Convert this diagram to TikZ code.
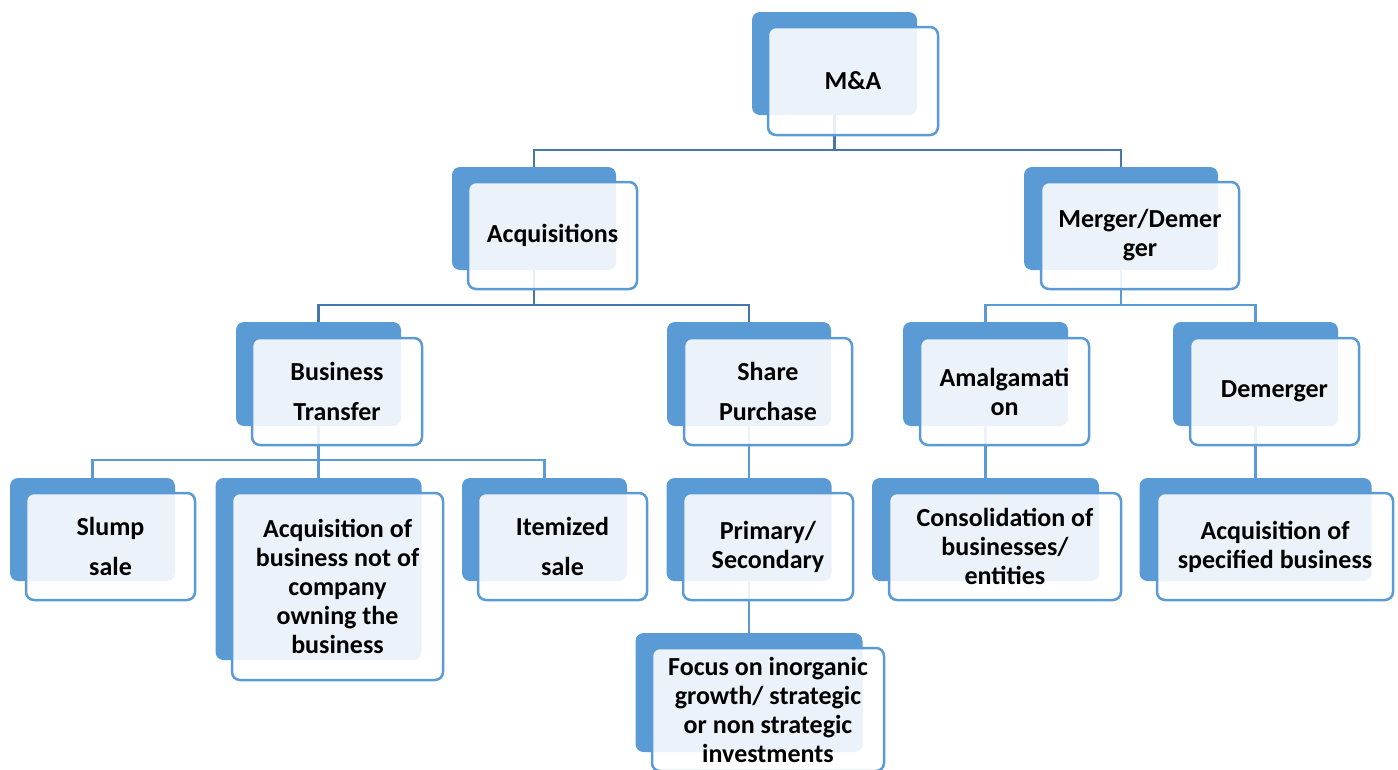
\documentclass[tikz,border=0pt]{standalone}
\usepackage{fontspec}
\setmainfont{Carlito}
\usetikzlibrary{backgrounds}
\definecolor{cardblue}{HTML}{5B9BD5}
\definecolor{linkdark}{HTML}{4676AC}
\tikzset{
  cardback/.style={fill=cardblue, rounded corners=8pt, inner sep=0pt},
  cardfront/.style={draw=cardblue, line width=2.5pt, fill=white, fill opacity=0.88,
    text opacity=1, rounded corners=8pt, align=center, inner sep=0pt,
    font={\fontsize{26}{29}\selectfont\bfseries}},
  link/.style={draw=cardblue, line width=2.5pt},
  toplink/.style={draw=linkdark, line width=2.5pt}
}
\begin{document}
\begin{tikzpicture}[x=1pt,y=-1pt]
    \useasboundingbox (0,0) rectangle (1398,769);
    % top
    \node[cardback, minimum width=165, minimum height=103] (ma-b) at (834.5,63.5) {};
    \node[cardfront, minimum width=170, minimum height=108] (ma) at (853,81) {M\&A};
    % second row
    \node[cardback, minimum width=164, minimum height=103] (acq-b) at (534,218.5) {};
    \node[cardfront, minimum width=169, minimum height=107] (acq) at (552.5,235.5) {Acquisitions};
    \node[cardback, minimum width=194, minimum height=103] (mer-b) at (1121,218.5) {};
    \node[cardfront, minimum width=198, minimum height=107] (mer) at (1140,235.5) {Merger/Demer\\ger};
    % third row
    \node[cardback, minimum width=165, minimum height=104] (bt-b) at (318.5,374) {};
    \node[cardfront, minimum width=170, minimum height=107] (bt) at (337,391.5) {Business\\[11pt]Transfer};
    \node[cardback, minimum width=164, minimum height=104] (sp-b) at (749,374) {};
    \node[cardfront, minimum width=168, minimum height=107] (sp) at (768,391.5) {Share\\[11pt]Purchase};
    \node[cardback, minimum width=165, minimum height=104] (am-b) at (985.5,374) {};
    \node[cardfront, minimum width=169, minimum height=107] (am) at (1004.5,391.5) {Amalgamati\\on};
    \node[cardback, minimum width=165, minimum height=104] (dm-b) at (1255.5,374) {};
    \node[cardfront, minimum width=169, minimum height=107] (dm) at (1274.5,391.5) {Demerger};
    % fourth row
    \node[cardback, minimum width=165, minimum height=103] (slump-b) at (92.5,529.5) {};
    \node[cardfront, minimum width=169, minimum height=107] (slump) at (110.5,546.5) {Slump\\[11pt]sale};
    \node[cardback, minimum width=206, minimum height=182] (own-b) at (318.5,569) {};
    \node[cardfront, minimum width=211, minimum height=187] (own) at (337.5,586.5) {Acquisition of\\business not of\\company\\owning the\\business};
    \node[cardback, minimum width=165, minimum height=103] (item-b) at (544.5,529.5) {};
    \node[cardfront, minimum width=169, minimum height=107] (item) at (562.5,546.5) {Itemized\\[11pt]sale};
    \node[cardback, minimum width=165, minimum height=103] (prim-b) at (749,529.5) {};
    \node[cardfront, minimum width=170, minimum height=107] (prim) at (768,546.5) {Primary/\\Secondary};
    \node[cardback, minimum width=227, minimum height=103] (cons-b) at (985.5,529.5) {};
    \node[cardfront, minimum width=232, minimum height=107] (cons) at (1005,546.5) {Consolidation of\\businesses/\\entities};
    \node[cardback, minimum width=232, minimum height=103] (spec-b) at (1255.5,529.5) {};
    \node[cardfront, minimum width=236, minimum height=107] (spec) at (1275,546.5) {Acquisition of\\specified business};
    % bottom
    \node[cardback, minimum width=227, minimum height=119] (focus-b) at (749,692.5) {};
    \node[cardfront, minimum width=232, minimum height=123] (focus) at (768,709.5) {Focus on inorganic\\growth/ strategic\\or non strategic\\investments};
    % connectors
    \begin{scope}[on background layer]
        \draw[toplink] (ma-b.south) -- ++(0,35) -| (acq-b.north);
        \draw[toplink] (ma-b.south) -- ++(0,35) -| (mer-b.north);
        \draw[toplink] (acq-b.south) -- ++(0,35) -| (bt-b.north);
        \draw[toplink] (acq-b.south) -- ++(0,35) -| (sp-b.north);
        \draw[link] (mer-b.south) -- ++(0,35) -| (am-b.north);
        \draw[link] (mer-b.south) -- ++(0,35) -| (dm-b.north);
        \draw[link] (bt-b.south) -- ++(0,34) -| (slump-b.north);
        \draw[link] (bt-b.south) -- (own-b.north);
        \draw[link] (bt-b.south) -- ++(0,34) -| (item-b.north);
        \draw[link] (sp-b.south) -- (prim-b.north);
        \draw[link] (prim-b.south) -- (focus-b.north);
        \draw[link] (am-b.south) -- (cons-b.north);
        \draw[link] (dm-b.south) -- (spec-b.north);
    \end{scope}
\end{tikzpicture}
\end{document}
